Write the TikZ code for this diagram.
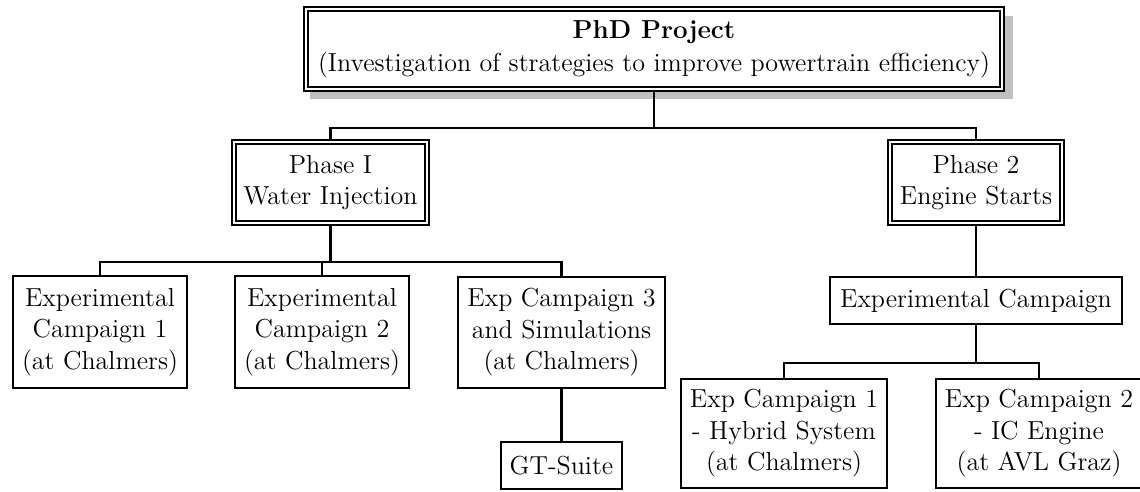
\documentclass[tikz,border=0pt]{standalone}
\usetikzlibrary{backgrounds}
\begin{document}
\begin{tikzpicture}[x=0.4608pt, y=-0.4608pt,
  font=\fontsize{12}{14.5}\selectfont,
  box/.style={draw, line width=1pt, fill=white, align=center, inner sep=0pt},
  dbox/.style={draw, line width=0.8pt, double=white, double distance=1pt,
               fill=white, align=center, inner sep=0pt},
  link/.style={line width=1pt}]
\useasboundingbox (0,0) rectangle (1140,491);

% project root
\node[dbox, minimum width=320.7pt, minimum height=36.9pt] (top) at (654,49)
  {\textbf{PhD Project}\\[0.7pt](Investigation of strategies to improve powertrain efficiency)};
\begin{scope}[on background layer]
  \fill[black!25] ([xshift=2.3pt,yshift=-4.1pt]top.south west)
    rectangle ([xshift=4.6pt,yshift=-3.7pt]top.north east);
\end{scope}

% phases
\node[dbox, minimum width=89.1pt, minimum height=37.5pt] (ph1) at (330.5,182.5)
  {Phase I\\Water Injection};
\node[dbox, minimum width=79pt, minimum height=37.5pt] (ph2) at (976,182.5)
  {Phase 2\\Engine Starts};

% phase I campaigns
\node[box, minimum width=80.1pt, minimum height=51.5pt] (ec1) at (100,332)
  {Experimental\\Campaign 1\\(at Chalmers)};
\node[box, minimum width=80.1pt, minimum height=51.5pt] (ec2) at (322,332)
  {Experimental\\Campaign 2\\(at Chalmers)};
\node[box, minimum width=95.3pt, minimum height=51.1pt] (ec3) at (561.5,332.5)
  {Exp Campaign 3\\and Simulations\\(at Chalmers)};
\node[box, minimum width=55.7pt, minimum height=21.6pt] (gt) at (561.5,465.5)
  {GT-Suite};

% phase 2 campaigns
\node[box, minimum width=134.5pt, minimum height=21.6pt] (expc) at (976,300.5)
  {Experimental Campaign};
\node[box, minimum width=94.8pt, minimum height=50.6pt] (hyb) at (784,433.5)
  {Exp Campaign 1\\- Hybrid System\\(at Chalmers)};
\node[box, minimum width=94.8pt, minimum height=50.6pt] (ic) at (1039,433.5)
  {Exp Campaign 2\\- IC Engine\\(at AVL Graz)};

% connectors
\coordinate (bus0) at (654,128);
\draw[link] (top.south) -- (bus0);
\draw[link] (ph1.north) |- (bus0) -| (ph2.north);

\coordinate (bus1) at (330.5,262);
\draw[link] (ph1.south) -- (bus1);
\draw[link] (ec1.north) |- (bus1) -| (ec3.north);
\draw[link] (ec2.north) -- (ec2.north |- bus1);
\draw[link] (ec3.south) -- (gt.north);

\draw[link] (ph2.south) -- (expc.north);
\coordinate (bus2) at (976,363);
\draw[link] (expc.south) -- (bus2);
\draw[link] (hyb.north) |- (bus2) -| (ic.north);
\end{tikzpicture}
\end{document}
